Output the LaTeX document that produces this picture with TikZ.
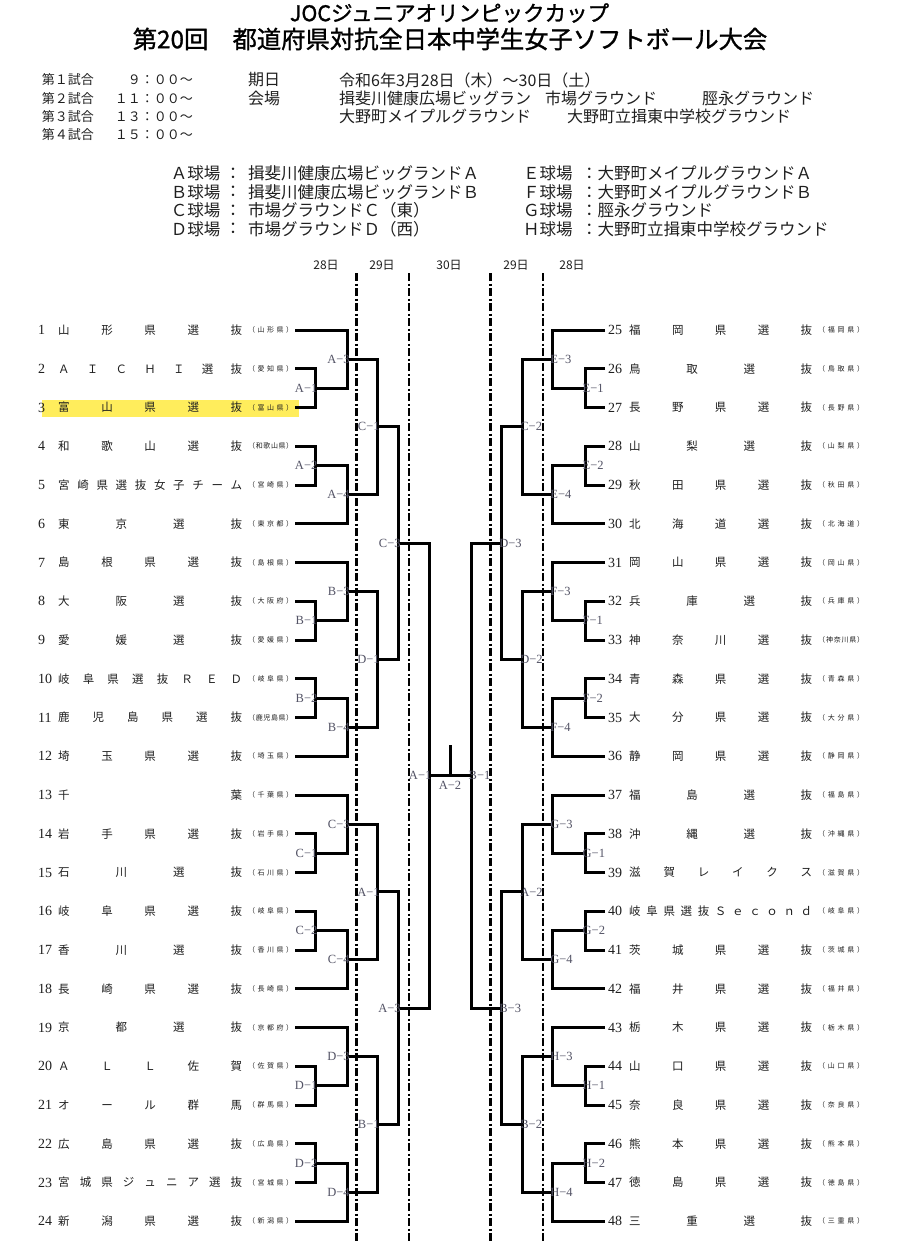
\documentclass[tikz,border=0pt]{standalone}
\usepackage{fontspec}
\setmainfont{Liberation Serif}
\newfontfamily\jp{Noto Sans CJK JP}
\newfontfamily\jpb[FakeBold=1.2]{Noto Sans CJK JP}
\usetikzlibrary{calc}
\definecolor{labgray}{rgb}{0.33,0.33,0.40}
\definecolor{hl}{rgb}{1,0.93,0.36}
\definecolor{ink}{rgb}{0.12,0.12,0.12}

\ExplSyntaxOn
\cs_new_protected:Npn \my_spread:nn #1#2
  { \hbox_to_wd:nn {#1} { \tl_map_inline:nn {#2} { ##1 \hfill } \unskip } }
\cs_generate_variant:Nn \my_spread:nn { ne }
\NewDocumentCommand \spreadtext { m m } { \my_spread:ne {#1} {#2} }
\ExplSyntaxOff

\newcommand\mymatch[4]{%
  \coordinate (#1-mid) at ($(#2)!0.5!(#3)$);
  \coordinate (#1) at (#4 |- #1-mid);
  \draw[br] (#2) -| (#1);
  \draw[br] (#3) -| (#1);
}

\tikzset{
  br/.style={line width=3pt, black, line join=miter},
  dd/.style={line width=2.5pt, black, dash pattern=on 8pt off 2.5pt on 2pt off 2.5pt},
  lab/.style={inner sep=0pt, font=\fontsize{12.5}{12.5}\selectfont, text=labgray},
  numlab/.style={anchor=west, inner sep=0pt, font=\fontsize{14}{14}\selectfont, text=ink},
  namelab/.style={anchor=west, inner sep=0pt, font=\jp\fontsize{11.5}{12}\selectfont, text=ink},
  preflab/.style={anchor=west, inner sep=0pt, font=\jp\fontsize{7}{7}\selectfont, text=ink},
  hd/.style={inner sep=0pt, font=\jp\fontsize{16}{16}\selectfont, text=ink},
  hds/.style={inner sep=0pt, font=\jp\fontsize{13}{13}\selectfont, text=ink},
  datel/.style={inner sep=0pt, font=\jp\fontsize{12}{12}\selectfont, text=ink},
}

\begin{document}
\begin{tikzpicture}[x=1pt,y=-1pt]
\useasboundingbox (0,0) rectangle (900,1241);
\fill[white] (0,0) rectangle (900,1241);

% ---- titles
\node[inner sep=0pt, font=\jpb\fontsize{21.5}{22}\selectfont] (title1) at (449.5,13) {JOCジュニアオリンピックカップ};
\node[inner sep=0pt, font=\jpb\fontsize{24.3}{25}\selectfont] (title2) at (450,39) {第20回　都道府県対抗全日本中学生女子ソフトボール大会};

% ---- schedule
\foreach \i/\g/\t/\yy in {1/第１試合/９：００～/80, 2/第２試合/１１：００～/98.3, 3/第３試合/１３：００～/116.6, 4/第４試合/１５：００～/135} {
  \node[hds, anchor=west] (game\i) at (41.7,\yy) {\g};
  \node[hds, anchor=east] (time\i) at (193,\yy) {\t};
}
\node[hd, anchor=west] (kijitsu) at (248,80) {期日};
\node[hd, anchor=west] (kaijo) at (248,98.3) {会場};
\node[hd, anchor=west] (date) at (339,80) {令和6年3月28日（木）～30日（土）};
\node[hd, anchor=west] (v1) at (339,98.3) {揖斐川健康広場ビッグラン};
\node[hd, anchor=west] (v2) at (545,98.3) {市場グラウンド};
\node[hd, anchor=west] (v3) at (702,98.3) {脛永グラウンド};
\node[hd, anchor=west] (v4) at (339,116.6) {大野町メイプルグラウンド};
\node[hd, anchor=west] (v5) at (567,116.6) {大野町立揖東中学校グラウンド};

% ---- fields
\begin{scope}[hd/.append style={font=\jp\fontsize{16.5}{17}\selectfont}]
\foreach \i/\f/\t/\yy in {1/Ａ/揖斐川健康広場ビッグランドＡ/173.5, 2/Ｂ/揖斐川健康広場ビッグランドＢ/192, 3/Ｃ/市場グラウンドＣ（東）/210.5, 4/Ｄ/市場グラウンドＤ（西）/229} {
  \node[hd, anchor=west] (fl\i) at (170.7,\yy) {\f 球場};
  \node[hd] (fc\i) at (233,\yy) {：};
  \node[hd, anchor=west] (ft\i) at (248,\yy) {\t};
}
\foreach \i/\f/\t/\yy in {1/Ｅ/大野町メイプルグラウンドＡ/173.5, 2/Ｆ/大野町メイプルグラウンドＢ/192, 3/Ｇ/脛永グラウンド/210.5, 4/Ｈ/大野町立揖東中学校グラウンド/229} {
  \node[hd, anchor=west] (gl\i) at (523,\yy) {\f 球場};
  \node[hd, anchor=west] (gt\i) at (581,\yy) {：\t};
}
\end{scope}

% ---- day labels
\foreach \x/\d/\n in {326/28/da, 382/29/db, 449/30/dc, 516/29/dd, 572/28/de} {
  \node[datel] (\n) at (\x,265) {\d 日};
}

% ---- dash-dot day separators
\foreach \x/\n in {356.7/sa, 409/sb, 490.7/sc, 543/sd} {
  \coordinate (\n-top) at (\x,273);
  \coordinate (\n-bot) at (\x,1241);
  \draw[dd] (\n-top) -- (\n-bot);
}

% ---- highlight for team 3
\node[fill=hl, inner sep=0pt, minimum width=257.3pt, minimum height=17pt, anchor=west] (hilite) at (41.7,408) {};

% ---- teams, left
\foreach \k/\nm/\pf in {1/山形県選抜/山形県,
  2/ＡＩＣＨＩ選抜/愛知県,
  3/富山県選抜/富山県,
  4/和歌山選抜/和歌山県,
  5/宮崎県選抜女子チーム/宮崎県,
  6/東京選抜/東京都,
  7/島根県選抜/島根県,
  8/大阪選抜/大阪府,
  9/愛媛選抜/愛媛県,
  10/岐阜県選抜ＲＥＤ/岐阜県,
  11/鹿児島県選抜/鹿児島県,
  12/埼玉県選抜/埼玉県,
  13/千葉/千葉県,
  14/岩手県選抜/岩手県,
  15/石川選抜/石川県,
  16/岐阜県選抜/岐阜県,
  17/香川選抜/香川県,
  18/長崎県選抜/長崎県,
  19/京都選抜/京都府,
  20/ＡＬＬ佐賀/佐賀県,
  21/オール群馬/群馬県,
  22/広島県選抜/広島県,
  23/宮城県ジュニア選抜/宮城県,
  24/新潟県選抜/新潟県} {
  \pgfmathsetmacro\yy{330+(\k-1)*38.75}
  \coordinate (t\k) at (295,\yy);
  \node[numlab] (num\k) at (38,\yy) {\k};
  \node[namelab] (name\k) at (58,\yy) {\spreadtext{184pt}{\nm}};
  \node[preflab] (pref\k) at (248,\yy) {\spreadtext{45pt}{（\pf）}};
}

% ---- teams, right
\foreach \k/\nm/\pf in {25/福岡県選抜/福岡県,
  26/鳥取選抜/鳥取県,
  27/長野県選抜/長野県,
  28/山梨選抜/山梨県,
  29/秋田県選抜/秋田県,
  30/北海道選抜/北海道,
  31/岡山県選抜/岡山県,
  32/兵庫選抜/兵庫県,
  33/神奈川選抜/神奈川県,
  34/青森県選抜/青森県,
  35/大分県選抜/大分県,
  36/静岡県選抜/静岡県,
  37/福島選抜/福島県,
  38/沖縄選抜/沖縄県,
  39/滋賀レイクス/滋賀県,
  40/岐阜県選抜Ｓｅｃｏｎｄ/岐阜県,
  41/茨城県選抜/茨城県,
  42/福井県選抜/福井県,
  43/栃木県選抜/栃木県,
  44/山口県選抜/山口県,
  45/奈良県選抜/奈良県,
  46/熊本県選抜/熊本県,
  47/徳島県選抜/徳島県,
  48/三重選抜/三重県} {
  \pgfmathsetmacro\yy{330+(\k-25)*38.75}
  \coordinate (t\k) at (605,\yy);
  \node[numlab] (num\k) at (608,\yy) {\k};
  \node[namelab] (name\k) at (629,\yy) {\spreadtext{183pt}{\nm}};
  \node[preflab] (pref\k) at (818,\yy) {\spreadtext{46pt}{（\pf）}};
}

% ---- bracket columns
\coordinate (cL1) at (315,0);   \coordinate (cR1) at (585,0);
\coordinate (cL2) at (347.3,0); \coordinate (cR2) at (552.7,0);
\coordinate (cL3) at (377.3,0); \coordinate (cR3) at (522.7,0);
\coordinate (cL4) at (398.3,0); \coordinate (cR4) at (501.7,0);
\coordinate (cL5) at (429,0);   \coordinate (cR5) at (471,0);

% ---- sextets
\foreach \s/\b/\sd/\an/\xs/\lt/\le in {1/1/L/east/2.5/A/C−1, 2/7/L/east/2.5/B/D−1,
   3/13/L/east/2.5/C/A−1, 4/19/L/east/2.5/D/B−1,
   5/25/R/west/-2.5/E/C−2, 6/31/R/west/-2.5/F/D−2,
   7/37/R/west/-2.5/G/A−2, 8/43/R/west/-2.5/H/B−2} {
  \pgfmathtruncatemacro\tA{\b}
  \pgfmathtruncatemacro\tB{\b+1}
  \pgfmathtruncatemacro\tC{\b+2}
  \pgfmathtruncatemacro\tD{\b+3}
  \pgfmathtruncatemacro\tE{\b+4}
  \pgfmathtruncatemacro\tF{\b+5}
  \mymatch{s\s-a}{t\tB}{t\tC}{c\sd1}
  \mymatch{s\s-b}{t\tA}{s\s-a}{c\sd2}
  \mymatch{s\s-c}{t\tD}{t\tE}{c\sd1}
  \mymatch{s\s-d}{s\s-c}{t\tF}{c\sd2}
  \mymatch{s\s-e}{s\s-b}{s\s-d}{c\sd3}
  \node[lab, anchor=\an, xshift=\xs pt] (ls\s-a) at (s\s-a) {\lt−1};
  \node[lab, anchor=\an, xshift=\xs pt] (ls\s-b) at (s\s-b) {\lt−3};
  \node[lab, anchor=\an, xshift=\xs pt] (ls\s-c) at (s\s-c) {\lt−2};
  \node[lab, anchor=\an, xshift=\xs pt] (ls\s-d) at (s\s-d) {\lt−4};
  \node[lab, anchor=\an, xshift=\xs pt] (ls\s-e) at (s\s-e) {\le};
}

% ---- quarters, semis, final
\mymatch{q1}{s1-e}{s2-e}{cL4}
\mymatch{q2}{s3-e}{s4-e}{cL4}
\mymatch{q3}{s5-e}{s6-e}{cR4}
\mymatch{q4}{s7-e}{s8-e}{cR4}
\mymatch{h1}{q1}{q2}{cL5}
\mymatch{h2}{q3}{q4}{cR5}
\node[lab, anchor=east, xshift=2.5pt] (lq1) at (q1) {C−3};
\node[lab, anchor=east, xshift=2.5pt] (lq2) at (q2) {A−3};
\node[lab, anchor=west, xshift=-2.5pt] (lq3) at (q3) {D−3};
\node[lab, anchor=west, xshift=-2.5pt] (lq4) at (q4) {B−3};
\node[lab, anchor=east, xshift=2.5pt] (lh1) at (h1) {A−1};
\node[lab, anchor=west, xshift=-2.5pt] (lh2) at (h2) {B−1};

\coordinate (fin) at ($(h1)!0.5!(h2)$);
\coordinate (fintop) at ($(fin)+(0,-30.5)$);
\draw[br] (h1) -- (fin) -- (h2);
\draw[br] (fin) -- (fintop);
\node[lab] (lfin) at ($(fin)+(0,9.5)$) {A−2};
\end{tikzpicture}
\end{document}
